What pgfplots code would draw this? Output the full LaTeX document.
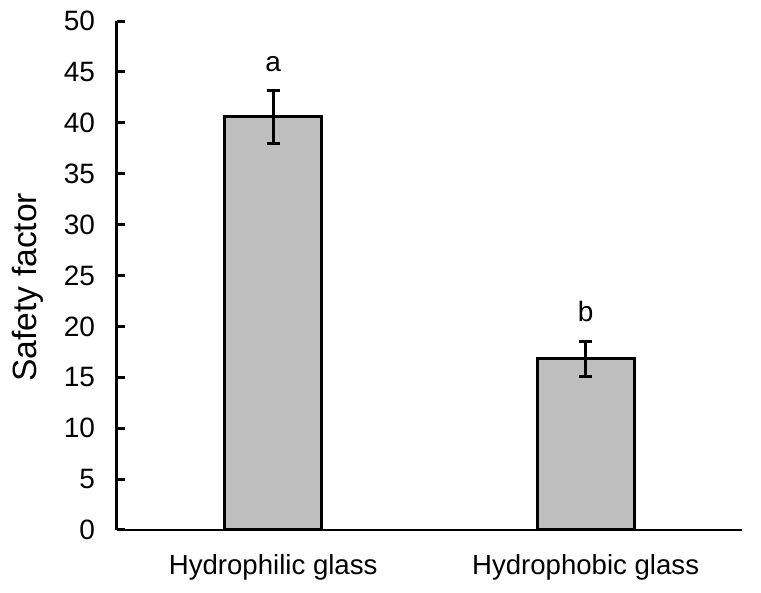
\documentclass[border=0pt]{standalone}
\usepackage{fontspec}
\setmainfont{Liberation Sans}
\usepackage{pgfplots}
\pgfplotsset{compat=1.18}
\definecolor{barfill}{HTML}{BFBFBF}
\begin{document}
\begin{tikzpicture}
\begin{axis}[
  scale only axis, width=312.4pt, height=254.5pt,
  xmin=-0.5, xmax=1.5, ymin=0, ymax=50,
  axis x line=bottom, axis y line=left,
  axis line style={-},
  x axis line style={line width=1.1pt},
  y axis line style={line width=1.5pt},
  xtick={0,1}, xticklabels={Hydrophilic glass, Hydrophobic glass},
  xtick style={draw=none},
  ytick={0,5,...,50},
  tick align=inside,
  major tick length=3.8pt,
  ytick style={line width=1.5pt, black},
  /pgf/number format/assume math mode=true,
  yticklabel style={font=\fontsize{14}{16}\selectfont, xshift=-7.5pt},
  xticklabel style={font=\fontsize{13.8}{16}\selectfont, yshift=-8.5pt},
  ylabel={Safety factor},
  ylabel style={font=\fontsize{16.8}{19}\selectfont, at={(axis description cs:-0.1425,0.477)}, anchor=center},
  clip=false,
]
\addplot[ybar, bar width=48.5pt, fill=barfill, draw=black, line width=1.5pt,
  error bars/.cd, y dir=both, y explicit,
  error bar style={line width=1.5pt, black},
  error mark options={rotate=90, line width=1.5pt, black, mark size=3.3pt}]
  coordinates {(0,40.6) +- (0,2.6) (1,16.8) +- (0,1.7)};
\node[font=\fontsize{14}{16}\selectfont] at (axis cs:0,45.8) {a};
\node[font=\fontsize{14}{16}\selectfont] at (axis cs:1,21.5) {b};
\coordinate (ll) at (rel axis cs:0,0);
\coordinate (ur) at (rel axis cs:1,1);
\end{axis}
\pgfresetboundingbox
\path ([shift={(-58.5pt,-31.5pt)}]ll) rectangle ([shift={(9.6pt,10.5pt)}]ur);
\end{tikzpicture}
\end{document}
